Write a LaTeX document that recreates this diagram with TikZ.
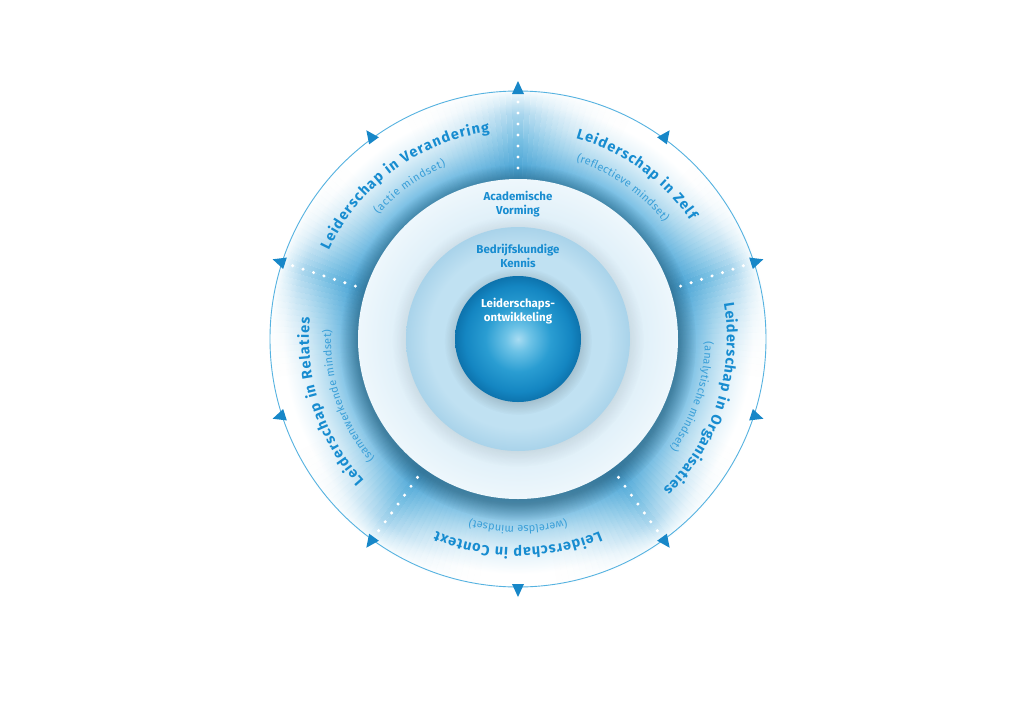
\documentclass[tikz,border=0pt]{standalone}
\usepackage{fontspec}
\setmainfont{Fira Sans}
\usepackage{xcolor}
\usetikzlibrary{
	decorations.text,
	fadings
}
\definecolor{titleblue}{HTML}{178CD0}
\definecolor{subblue}{HTML}{3A9FD8}
\definecolor{arrowblue}{HTML}{1787C8}
\definecolor{lineblue}{HTML}{55B2E0}
\definecolor{bandA}{HTML}{55ADDA}
\definecolor{bandB}{HTML}{7DC1E5}
\definecolor{bandC}{HTML}{B8DEF1}
\definecolor{bandD}{HTML}{E5F3FA}
\definecolor{spokeA}{HTML}{44A0D2}
\definecolor{spokeB}{HTML}{6CBAE1}
\definecolor{spokeC}{HTML}{9DD0EB}
\definecolor{spokeD}{HTML}{DAEFF9}
\definecolor{ringin}{HTML}{DCEEF8}
\definecolor{ringout}{HTML}{EEF7FC}
\definecolor{diskin}{HTML}{C0E1F2}
\definecolor{diskout}{HTML}{A9D3EA}
\definecolor{ballA}{HTML}{A8DCF2}
\definecolor{ballB}{HTML}{6CC2E6}
\definecolor{ballC}{HTML}{2A9DD2}
\definecolor{ballD}{HTML}{1486C2}
\definecolor{ballE}{HTML}{0D73AD}

% shadings: 25bp is the rim of the shaded circle
\pgfdeclareradialshading{bandshade}{\pgfpointorigin}{
	color(0bp)=(bandA); color(16bp)=(bandA); color(17.5bp)=(bandB);
	color(19.5bp)=(bandC); color(21.5bp)=(bandD); color(23.5bp)=(white);
	color(50bp)=(white)}
\pgfdeclareradialshading{spokeshade}{\pgfpointorigin}{
	color(0bp)=(spokeA); color(17bp)=(spokeA); color(20bp)=(spokeB);
	color(22.5bp)=(spokeC); color(24.2bp)=(spokeD); color(25bp)=(white);
	color(50bp)=(white)}
\pgfdeclareradialshading{ringshade}{\pgfpointorigin}{
	color(0bp)=(ringin); color(17.5bp)=(ringin); color(25bp)=(ringout);
	color(50bp)=(ringout)}
\pgfdeclareradialshading{diskshade}{\pgfpointorigin}{
	color(0bp)=(diskin); color(20bp)=(diskin); color(25bp)=(diskout);
	color(50bp)=(diskout)}
\pgfdeclareradialshading{ballshade}{\pgfpointorigin}{
	color(0bp)=(ballA); color(5bp)=(ballB); color(13bp)=(ballC);
	color(21bp)=(ballD); color(25bp)=(ballE); color(50bp)=(ballE)}

\newcommand\ringtitle{\bfseries\fontsize{14.5}{17}\selectfont}
\newcommand\ringsub{\fontsize{11}{13}\selectfont}

\tikzset{
	titlearc/.style={
		decorate,
		decoration={text along path, text={|\ringtitle|#1},
			text align=fit to path, text color=titleblue}
	},
	subarc/.style={
		decorate,
		decoration={text along path, text={|\ringsub|#1},
			text align=fit to path, text color=subblue}
	},
	dotline/.style={
		white, line width=3.4pt, line cap=round,
		dash pattern=on 0pt off 11pt
	},
	corelabel/.style={
		align=center, text=titleblue,
		font=\bfseries\fontsize{11.5}{14}\selectfont
	}
}

\begin{document}
\begin{tikzpicture}
	\useasboundingbox (-518pt,-385pt) rectangle (506pt,339pt);

	% outer band
	\shade[shading=bandshade] (0,0) circle (250pt);
	\foreach \a in {0,1.5,...,358.5}{
		\pgfmathsetmacro\op{0.9*max(0,1-abs(mod(\a+18.75,72)-36)/28)^2}
		\begin{scope}
			\clip (0,0) -- (\a:262pt) arc[start angle=\a, end angle=\a+1.5, radius=262pt] -- cycle;
			\shade[shading=spokeshade, opacity=\op] (0,0) circle (250pt);
		\end{scope}
	}
	\draw[lineblue, line width=0.9pt] (0,0) circle (248pt);

	% rings
	\fill[black, opacity=0.26, path fading=circle with fuzzy edge 10 percent] (0,-4pt) circle (178pt);
	\shade[shading=ringshade] (0,0) circle (160pt);
	\fill[black, opacity=0.12, path fading=circle with fuzzy edge 20 percent] (0,-2pt) circle (126pt);
	\shade[shading=diskshade] (0,0) circle (112pt);
	\fill[black, opacity=0.16, path fading=circle with fuzzy edge 20 percent] (0,-2pt) circle (74pt);
	\shade[shading=ballshade] (0,0) circle (63pt);

	% dividers and arrow heads
	\foreach \a in {18,90,162,234,306}
		\draw[dotline] (\a:171pt) -- (\a:238pt);
	\foreach \a in {18,54,...,342}
		\fill[arrowblue, rotate=\a] (245pt,-6pt) -- (258pt,0pt) -- (245pt,6pt) -- cycle;

	% core labels
	\node[corelabel] (vorming) at (0pt,135pt) {Academische\\Vorming};
	\node[corelabel] (kennis)  at (0pt,83pt)  {Bedrijfskundige\\Kennis};
	\node[corelabel, text=white] (ontw) at (0pt,28pt) {Leiderschaps-\\ontwikkeling};

	% sector labels
	\path[titlearc={Leiderschap in Verandering}]  (154.8:209pt) arc[start angle=154.8, end angle=97.8, radius=209pt];
	\path[subarc={(actie mindset)}]               (138.2:187pt) arc[start angle=138.2, end angle=112.6, radius=187pt];
	\path[titlearc={Leiderschap in Zelf}]         (73.9:209pt) arc[start angle=73.9, end angle=34.6, radius=209pt];
	\path[subarc={(reflectieve mindset)}]         (71.9:187pt) arc[start angle=71.9, end angle=38.7, radius=187pt];
	\path[titlearc={Leiderschap in Organisaties}] (9.9:209pt) arc[start angle=9.9, end angle=-46, radius=209pt];
	\path[subarc={(analytische mindset)}]         (-0.9:187pt) arc[start angle=-0.9, end angle=-35.8, radius=187pt];
	\path[titlearc={Leiderschap in Context}]      (293:209pt) arc[start angle=293, end angle=247, radius=209pt];
	\path[subarc={(wereldse mindset)}]            (284.9:187pt) arc[start angle=284.9, end angle=255.1, radius=187pt];
	\path[titlearc={Leiderschap in Relaties}]     (222.6:209pt) arc[start angle=222.6, end angle=174.2, radius=209pt];
	\path[subarc={(samenwerkende mindset)}]       (219.9:187pt) arc[start angle=219.9, end angle=177.3, radius=187pt];
\end{tikzpicture}
\end{document}
